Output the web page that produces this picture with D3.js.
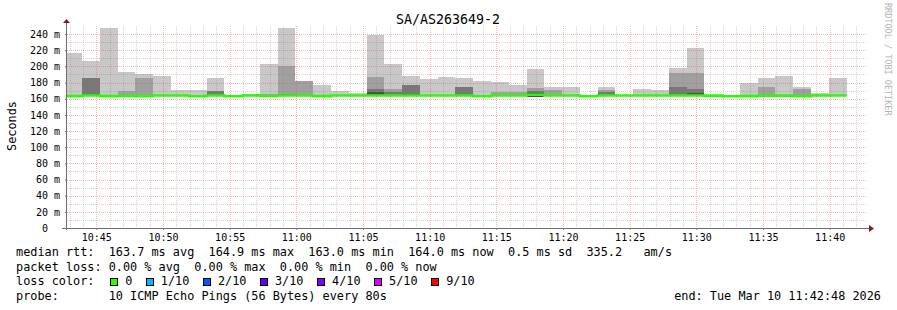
<!DOCTYPE html>
<html>
<head>
<meta charset="utf-8">
<script src="https://cdn.jsdelivr.net/npm/d3@7"></script>
<style>
  body { margin: 0; background: #fff; }
  svg { display: block; }
  text { font-family: "DejaVu Sans Mono", monospace; white-space: pre; }
</style>
</head>
<body>
<svg id="chart" width="897" height="310"></svg>
<script>
// chart data
const title = 'SA/AS263649-2';
const yTitle = 'Seconds';
const watermark = 'RRDTOOL / TOBI OETIKER';
const viewStart = new Date(2026, 2, 10, 10, 42, 48);
const viewEnd = new Date(2026, 2, 10, 11, 42, 48);
const firstBinStart = new Date(2026, 2, 10, 10, 42, 36);
const stepSeconds = 80;

// median rtt per 80s step (ms)
const medianRtt = [163.2, 163.9, 163.2, 163.4, 163.2, 163.9, 163.9, 163.0, 163.9, 163.0, 163.9,
  163.3, 164.0, 163.9, 163.2, 163.9, 163.9, 163.9, 163.9, 163.9, 163.9, 163.9, 163.9, 163.0,
  163.9, 163.9, 164.9, 163.9, 163.9, 163.0, 163.9, 163.9, 163.9, 163.9, 163.9, 164.0, 163.8,
  163.0, 163.2, 163.6, 163.8, 163.0, 163.9, 164.0];
// lowest ping per step (bottom of the smoke)
const pingMin = [162.8, 162.9, 162.8, 162.8, 162.8, 162.9, 162.9, 162.6, 162.9, 162.6, 162.9,
  162.8, 163.0, 162.9, 162.8, 162.9, 162.9, 162.9, 162.9, 162.9, 162.9, 162.9, 162.9, 162.6,
  162.9, 162.9, 162.3, 162.9, 162.9, 162.6, 162.9, 162.9, 162.9, 162.9, 162.9, 163.0, 162.8,
  162.6, 162.8, 162.8, 162.8, 162.6, 162.9, 163.0];
// smoke band tops, lightest to darkest (null = band hidden)
const smokeOuter = [217, 207, 248, 193, 190, 188.3, 170.4, 170.4, 185.4, 164, 165.4, 203, 248,
  181.7, 177, 169.6, 167.5, 239, 202.5, 188, 184.2, 186.7, 185.4, 181.7, 180.4, 177, 196.7, 174.2,
  174.2, 163.5, 174.2, 165, 171.7, 170.4, 198, 223, 164, 163.5, 179.2, 185.4, 188, 174.2, 166.7, 185.4];
const smokeMid = [null, 185.8, null, 169, 185.4, null, null, null, 169.6, null, null, 165.5, 200.4,
  181.7, null, null, null, 186.7, 171.7, 176.7, null, null, 174.2, null, 168, 168, 173, 170.4,
  null, null, 170.4, null, null, null, 191.7, 191.7, null, null, null, 174.2, null, 171.7, null, null];
const smokeInner = [null, 185.8, null, 165, null, null, null, null, 169.6, null, null, null, 166,
  null, null, null, null, 171.7, 168, 176.7, null, null, 174.2, null, null, null, 169, null,
  null, null, 168, null, null, null, 174.2, 171.7, null, null, null, null, null, null, null, null];
const smokeCore = [null, null, null, null, null, null, null, null, null, null, null, null, null,
  null, null, null, null, 168, null, 165.4, null, null, null, null, null, null, 167.5, null,
  null, null, null, null, null, null, null, 166.7, null, null, null, null, null, null, null, null];

const yTicks = [0, 20, 40, 60, 80, 100, 120, 140, 160, 180, 200, 220, 240];
const lossLabels = ['0', '1/10', '2/10', '3/10', '4/10', '5/10', '9/10'];
const lossColors = ['#26ff00', '#00b8ff', '#0059ff', '#5e00ff', '#7e00ff', '#dd00ff', '#ff0000'];

const statLines = [
  'median rtt:  163.7 ms avg  164.9 ms max  163.0 ms min  164.0 ms now  0.5 ms sd  335.2   am/s',
  'packet loss: 0.00 % avg  0.00 % max  0.00 % min  0.00 % now',
  'loss color:',
  'probe:       10 ICMP Echo Pings (56 Bytes) every 80s'
];
const endLabel = 'end: Tue Mar 10 11:42:48 2026';

// layout
const plotLeft = 67, plotRight = 867, plotTop = 26, plotBottom = 228;
const legendFont = 11.85;
const charW = legendFont * 0.602;
const svg = d3.select('#chart');

const x = d3.scaleTime().domain([viewStart, viewEnd]).range([plotLeft, plotRight]);
const y = d3.scaleLinear().domain([0, 250]).range([plotBottom, plotTop]);

svg.append('defs').append('clipPath').attr('id', 'plot-clip')
  .append('rect')
    .attr('x', plotLeft).attr('y', plotTop)
    .attr('width', plotRight - plotLeft).attr('height', plotBottom - plotTop);

const bins = medianRtt.map((m, i) => ({
  start: d3.timeSecond.offset(firstBinStart, i * stepSeconds),
  end: d3.timeSecond.offset(firstBinStart, (i + 1) * stepSeconds),
  median: m,
  min: pingMin[i],
  outer: smokeOuter[i],
  mid: smokeMid[i],
  inner: smokeInner[i],
  core: smokeCore[i]
}));

// smoke
const plot = svg.append('g').attr('clip-path', 'url(#plot-clip)');
const smokeLayers = [
  {key: 'outer', color: '#c8c8c8'},
  {key: 'mid', color: '#a0a0a0'},
  {key: 'inner', color: '#787878'},
  {key: 'core', color: '#505050'}
];
smokeLayers.forEach(layer => {
  plot.append('g')
    .attr('shape-rendering', 'crispEdges')
    .selectAll('rect')
    .data(bins.filter(d => d[layer.key] != null))
    .join('rect')
      .attr('x', d => x(d.start))
      .attr('width', d => x(d.end) - x(d.start))
      .attr('y', d => y(d[layer.key]))
      .attr('height', d => y(d.min) - y(d[layer.key]))
      .attr('fill', layer.color);
});

// grid, drawn over the smoke like rrdtool does
const grid = svg.append('g').attr('shape-rendering', 'crispEdges').attr('fill', 'none');
const minorCol = 'rgba(128,128,128,0.34)';
const majorCol = 'rgba(230,80,80,0.42)';
d3.timeMinute.range(viewStart, viewEnd).forEach(t => {
  const major = t.getMinutes() % 5 === 0;
  grid.append('line')
    .attr('x1', Math.round(x(t)) + 0.5).attr('x2', Math.round(x(t)) + 0.5)
    .attr('y1', plotTop).attr('y2', plotBottom)
    .attr('stroke', major ? majorCol : minorCol)
    .attr('stroke-dasharray', '1,1');
});
d3.range(10, 250, 10).forEach(v => {
  const major = v % 20 === 0;
  grid.append('line')
    .attr('x1', plotLeft).attr('x2', plotRight)
    .attr('y1', Math.round(y(v)) + 0.5).attr('y2', Math.round(y(v)) + 0.5)
    .attr('stroke', major ? majorCol : minorCol)
    .attr('stroke-dasharray', '1,1');
});

// median line
const medPts = bins.map(d => [x(d.start), y(d.median)]);
medPts.push([x(bins[bins.length - 1].end), y(bins[bins.length - 1].median)]);
plot.append('path')
  .attr('d', d3.line().curve(d3.curveStepAfter)(medPts))
  .attr('fill', 'none')
  .attr('stroke', lossColors[0])
  .attr('stroke-width', 2.6);

// axes
const xAxis = d3.axisBottom(x)
  .ticks(d3.timeMinute.every(5))
  .tickFormat(d3.timeFormat('%H:%M'))
  .tickSizeInner(2).tickSizeOuter(0).tickPadding(3.6);
const xAxisG = svg.append('g').attr('transform', `translate(0,${plotBottom})`).call(xAxis);
xAxisG.select('.domain').remove();
xAxisG.selectAll('line').attr('stroke', '#888');
xAxisG.selectAll('text').attr('font-family', '"DejaVu Sans Mono", monospace')
  .attr('font-size', 10).attr('fill', '#000');

const yAxis = d3.axisLeft(y)
  .tickValues(yTicks)
  .tickFormat(v => v === 0 ? '0  ' : `${v} m`)
  .tickSizeInner(2).tickSizeOuter(0).tickPadding(5);
const yAxisG = svg.append('g').attr('transform', `translate(${plotLeft},0)`).call(yAxis);
yAxisG.select('.domain').remove();
yAxisG.selectAll('line').attr('stroke', '#666');
yAxisG.selectAll('text')
  .attr('xml:space', 'preserve')
  .attr('font-family', '"DejaVu Sans Mono", monospace')
  .attr('font-size', 10).attr('fill', '#000');

const axisCol = '#707070';
const arrowCol = '#8b1a1a';
svg.append('line')
  .attr('x1', plotLeft - 5).attr('x2', plotRight + 2)
  .attr('y1', plotBottom + 0.5).attr('y2', plotBottom + 0.5)
  .attr('stroke', axisCol).attr('shape-rendering', 'crispEdges');
svg.append('line')
  .attr('x1', plotLeft - 0.5).attr('x2', plotLeft - 0.5)
  .attr('y1', plotBottom + 2).attr('y2', plotTop - 4)
  .attr('stroke', axisCol).attr('shape-rendering', 'crispEdges');
svg.append('path')
  .attr('d', `M${plotRight + 2},${plotBottom - 3}L${plotRight + 7},${plotBottom + 0.5}L${plotRight + 2},${plotBottom + 4}Z`)
  .attr('fill', arrowCol);
svg.append('path')
  .attr('d', `M${plotLeft - 4},${plotTop - 3}L${plotLeft - 0.5},${plotTop - 7}L${plotLeft + 3},${plotTop - 3}Z`)
  .attr('fill', arrowCol);

// titles
svg.append('text')
  .attr('x', 448).attr('y', 24)
  .attr('text-anchor', 'middle')
  .attr('font-size', 13.3)
  .text(title);

svg.append('text')
  .attr('transform', 'translate(15.5,126) rotate(-90)')
  .attr('text-anchor', 'middle')
  .attr('font-size', legendFont)
  .text(yTitle);

svg.append('text')
  .attr('transform', 'translate(885,3) rotate(90)')
  .attr('font-size', 8.5)
  .attr('fill', '#b4b4b4')
  .text(watermark);

// legend
const legendBase = [256, 270.5, 285, 299.5];
svg.append('g').selectAll('text')
  .data(statLines)
  .join('text')
    .attr('xml:space', 'preserve')
    .attr('x', 16)
    .attr('y', (d, i) => legendBase[i])
    .attr('font-size', legendFont)
    .text(d => d);

svg.append('text')
  .attr('x', 881).attr('y', legendBase[3])
  .attr('text-anchor', 'end')
  .attr('font-size', legendFont)
  .text(endLabel);

let col = 13.2;
const lossG = svg.append('g');
lossLabels.forEach((label, i) => {
  const bx = Math.round(16 + col * charW);
  lossG.append('rect')
    .attr('x', bx + 0.5).attr('y', 278.5)
    .attr('width', 7).attr('height', 7)
    .attr('fill', lossColors[i])
    .attr('stroke', '#000')
    .attr('shape-rendering', 'crispEdges');
  lossG.append('text')
    .attr('x', 16 + (col + 2.1) * charW)
    .attr('y', legendBase[2])
    .attr('font-size', legendFont)
    .text(label);
  col += label.length + 4;
});
</script>
</body>
</html>
